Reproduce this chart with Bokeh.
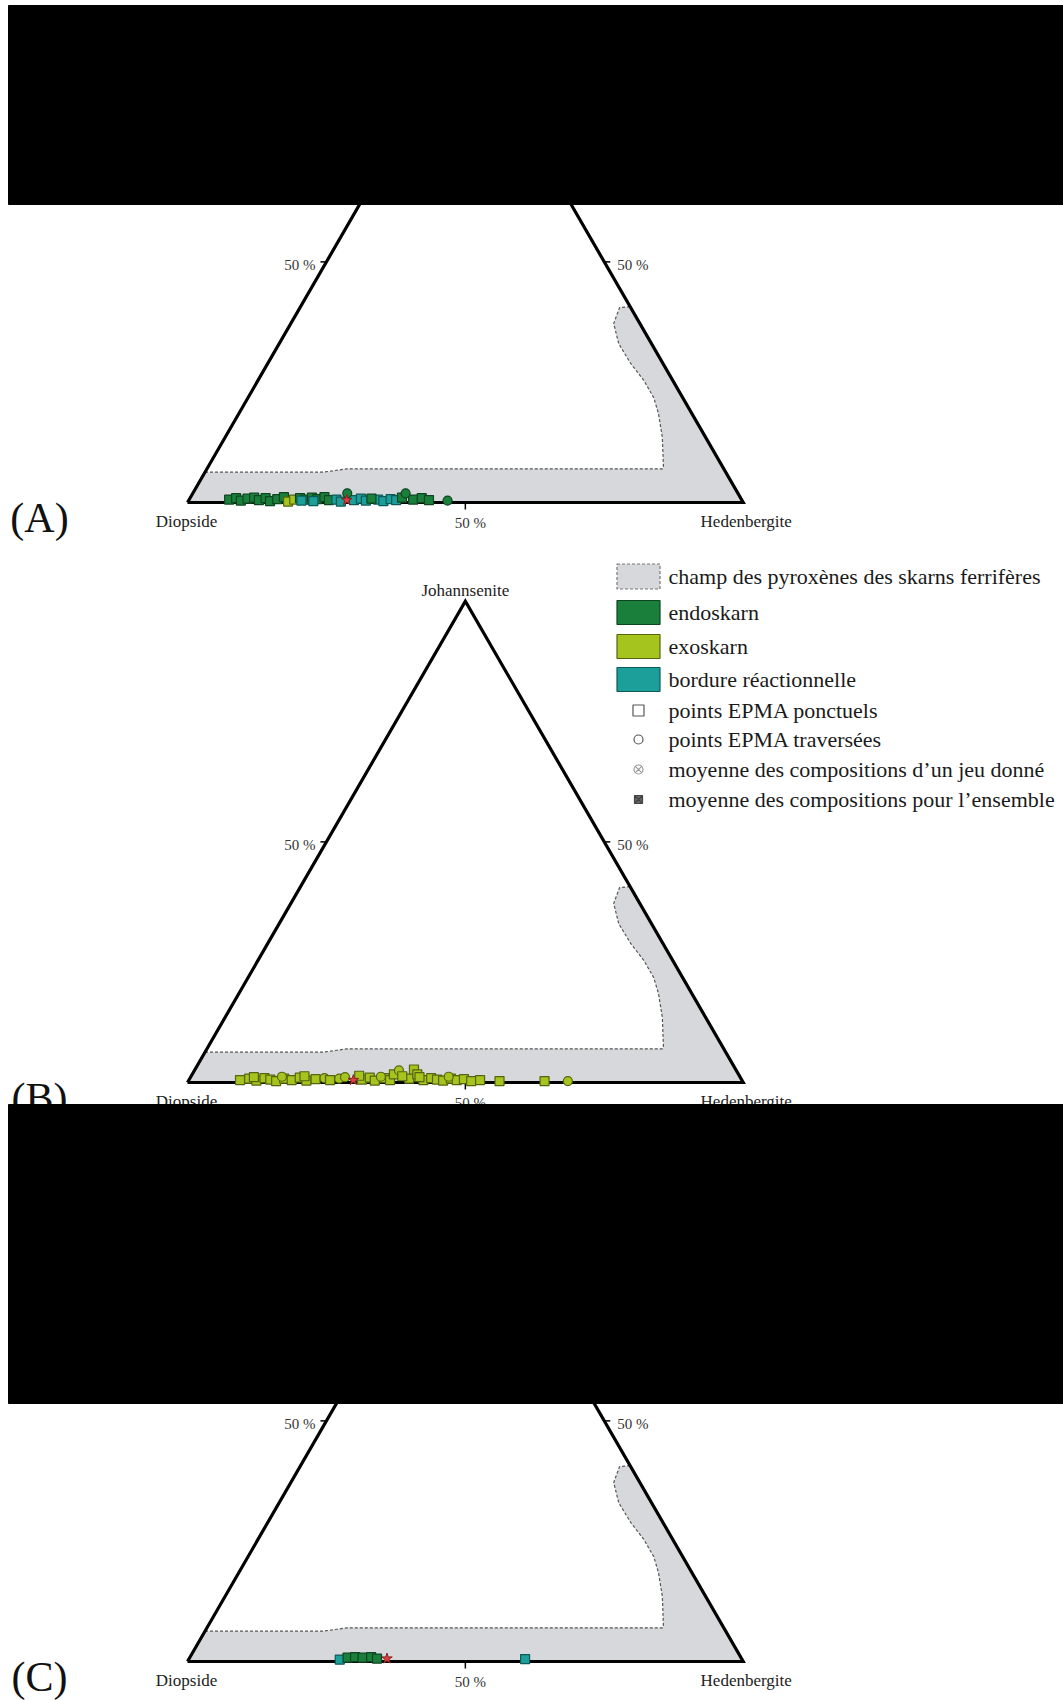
import numpy as np
from bokeh.plotting import figure
from bokeh.models import Range1d, ColumnDataSource
from bokeh.core.properties import value
from bokeh.embed import file_html
from bokeh.resources import INLINE

# ---------------- data (ternary: Hd %, Jo %; Di = 100 - Hd - Jo) ----------------
corner_names = ["Diopside", "Hedenbergite", "Johannsenite"]
tick_label = "50 %"
panel_labels = ["(A)", "(B)", "(C)"]

# field of pyroxenes of Fe skarns (interior boundary, from left edge to right edge)
field_hd = [0.0, 21.3, 23.5, 25.3, 82.0, 82.0, 78.7, 75.5, 73.0, 69.4, 65.3, 61.1, 58.1, 57.5, 59.3]
field_jo = [6.3, 6.3, 6.7, 7.0, 7.0, 7.3, 13.5, 18.5, 21.8, 25.4, 28.9, 33.0, 37.2, 40.5, 40.7]

# Panel A
A_hd = [7.2, 8.3, 9.4, 10.4, 11.5, 12.6, 13.6, 14.7, 15.8, 16.8,
        18.0, 18.9,
        19.8, 20.9, 21.9, 23.0, 24.1, 25.2,
        20.3, 22.5, 26.5, 27.5, 29.7, 30.8, 31.9, 34.0, 35.1, 36.2, 37.3,
        32.7, 38.1, 40.3, 41.7, 43.2,
        27.8, 38.3, 46.6]
A_jo = [0.6, 0.9, 0.4, 0.8, 1.0, 0.5, 0.9, 0.3, 0.7, 1.1,
        0.2, 0.6,
        0.9, 0.6, 1.0, 0.7, 1.1, 0.5,
        0.4, 0.3, 0.6, 0.2, 0.5, 0.8, 0.4, 0.6, 0.3, 0.7, 0.5,
        0.8, 1.0, 0.6, 0.9, 0.5,
        1.9, 1.9, 0.4]
A_grp = ["endo"] * 10 + ["exo"] * 2 + ["endo"] * 6 + ["bord"] * 11 + ["endo"] * 5 + ["endo"] * 3
A_shape = ["square"] * 34 + ["circle"] * 3
A_mean_hd = [28.4]
A_mean_jo = [0.5]

# Panel B
B_hd = [9.2, 10.7, 12.2, 13.4, 14.6, 15.8, 17.0, 18.5, 19.7, 21.2, 22.7, 24.2, 25.4, 26.9,
        31.1, 32.3, 33.5, 35.0, 36.2, 36.3, 36.8, 39.5, 39.4, 40.5, 42.2, 43.4, 44.6, 45.8,
        47.0, 48.2, 49.4, 50.9, 52.4, 56.0, 64.1, 68.3,
        11.4, 16.4, 20.4, 27.8, 30.2, 34.2, 38.0, 41.2, 46.4]
B_jo = [0.5, 0.8, 0.4, 0.9, 0.6, 0.3, 0.8, 0.5, 1.0, 0.4, 0.7, 0.9, 0.5, 0.8,
        0.6, 1.0, 0.4, 0.9, 0.5, 1.7, 2.5, 0.8, 2.7, 1.7, 0.5, 0.9, 0.6, 0.4,
        0.8, 0.5, 0.7, 0.3, 0.5, 0.3, 0.3, 0.3,
        1.1, 1.2, 1.3, 1.1, 1.4, 1.2, 1.3, 1.1, 1.2]
B_grp = ["exo"] * 45
B_shape = (["square"] * 11 + ["circle", "square", "circle"] + ["square"] * 6 + ["circle"] + ["square"] * 14
           + ["circle"] + ["square", "circle", "square", "circle", "square", "circle", "square", "square", "circle"])
B_mean_hd = [29.6]
B_mean_jo = [0.5]

# Panel C
C_hd = [27.2, 28.4, 29.7, 31.1, 32.6, 33.8, 60.5]
C_jo = [0.4, 0.8, 0.9, 0.8, 0.9, 0.6, 0.5]
C_grp = ["bord", "endo", "endo", "endo", "endo", "endo", "bord"]
C_shape = ["square"] * 7
C_mean_hd = [35.6]
C_mean_jo = [0.6]

legend_texts = ["champ des pyroxènes des skarns ferrifères", "endoskarn", "exoskarn",
                "bordure réactionnelle", "points EPMA ponctuels", "points EPMA traversées",
                "moyenne des compositions d\u2019un jeu donné",
                "moyenne des compositions pour l\u2019ensemble"]

# ---------------- styles ----------------
FILL = {"endo": "#1b7f3c", "exo": "#a6c41e", "bord": "#1c9f9b"}
EDGE = {"endo": "#0d4520", "exo": "#55650f", "bord": "#0e5a58"}
FIELD = "#d6d8dc"
FONT = value("Liberation Serif")

W, H = 1063, 1700
X0, SIDE = 187.0, 555.7
BASES = [502.0, 1082.0, 1661.0]
S3 = np.sqrt(3) / 2


def tern(hd, jo, base):
    hd = np.asarray(hd, float)
    jo = np.asarray(jo, float)
    x = X0 + SIDE * (hd + jo / 2) / 100.0
    y = base - SIDE * S3 * jo / 100.0
    return x, y


p = figure(width=W, height=H, output_backend="svg", toolbar_location=None,
           x_range=Range1d(0, W), y_range=Range1d(H, 0),
           min_border=0, border_fill_color="white", background_fill_color="white")
p.axis.visible = False
p.grid.visible = False
p.outline_line_color = None

panels = [(A_hd, A_jo, A_grp, A_shape, A_mean_hd, A_mean_jo),
          (B_hd, B_jo, B_grp, B_shape, B_mean_hd, B_mean_jo),
          (C_hd, C_jo, C_grp, C_shape, C_mean_hd, C_mean_jo)]

TICK_FS = value("15px")
for k, base in enumerate(BASES):
    hd, jo, grp, shp, mhd, mjo = panels[k]
    # gray field polygon
    poly_hd = [0.0, 100.0] + field_hd[::-1]
    poly_jo = [0.0, 0.0] + field_jo[::-1]
    fx, fy = tern(poly_hd, poly_jo, base)
    p.patch(list(fx), list(fy), fill_color=FIELD, line_color=None)
    bx, by = tern(field_hd, field_jo, base)
    p.line(list(bx), list(by), line_color="#555555", line_width=1.2, line_dash="3 2")
    # triangle
    tx, ty = tern([0, 100, 0, 0], [0, 0, 100, 0], base)
    p.line(list(tx), list(ty), line_color="black", line_width=3.2, line_join="miter")
    # 50 % ticks
    cx, cy = tern([50], [0], base)
    p.segment(x0=cx, y0=cy, x1=cx, y1=cy + 7, line_color="black", line_width=1.5)
    lx, ly = tern([0], [50], base)
    p.segment(x0=lx, y0=ly, x1=lx - 6, y1=ly, line_color="black", line_width=1.5)
    rx, ry = tern([50], [50], base)
    p.segment(x0=rx, y0=ry, x1=rx + 6, y1=ry, line_color="black", line_width=1.5)
    p.text(x=list(lx - 11), y=list(ly + 3), text=[tick_label], text_align="right", text_baseline="middle",
           text_font=FONT, text_font_size=TICK_FS, text_color="#333333")
    p.text(x=list(rx + 13), y=list(ry + 3), text=[tick_label], text_align="left", text_baseline="middle",
           text_font=FONT, text_font_size=TICK_FS, text_color="#333333")
    p.text(x=list(cx + 5), y=list(cy + 20), text=[tick_label], text_align="center", text_baseline="middle",
           text_font=FONT, text_font_size=TICK_FS, text_color="#333333")
    # corner names
    dx, dy = tern([0, 100, 0], [0, 0, 100], base)
    p.text(x=[dx[0] - 1, dx[1] + 3], y=[dy[0] + 19, dy[1] + 19], text=corner_names[:2],
           text_align="center", text_baseline="middle", text_font=FONT,
           text_font_size=value("17px"), text_color="#222222")
    if k == 1:  # apex label is only visible on panel B
        p.text(x=[dx[2]], y=[dy[2] - 11], text=[corner_names[2]], text_align="center", text_baseline="middle",
               text_font=FONT, text_font_size=value("17px"), text_color="#222222")
    # panel label
    p.text(x=[39], y=[base + 15], text=[panel_labels[k]], text_align="center", text_baseline="middle",
           text_font=FONT, text_font_size=value("42px"), text_color="#111111")
    # points
    px, py = tern(hd, jo, base)
    src = ColumnDataSource(dict(x=px, y=py, marker=shp,
                                fill=[FILL[g] for g in grp], edge=[EDGE[g] for g in grp]))
    p.scatter(x="x", y="y", marker="marker", source=src, size=9, fill_color="fill",
              line_color="edge", line_width=1.2)
    mx, my = tern(mhd, mjo, base)
    p.scatter(x=list(mx), y=list(my), marker="star", size=11, fill_color="#d8423f",
              line_color="#8a1f1f", line_width=1)

# black bars (masked regions of the original figure)
p.quad(left=[8, 8], right=[W, W], top=[5, 1104], bottom=[204, 1403],
       fill_color="black", line_color="black")

# legend
SW_X = 638
sw_y = [576, 612, 646, 679]
p.rect(x=[SW_X], y=[sw_y[0]], width=43, height=25, fill_color=FIELD, line_color="#777777",
       line_dash="3 2", line_width=1.2)
for g, yy in zip(["endo", "exo", "bord"], sw_y[1:]):
    p.rect(x=[SW_X], y=[yy], width=43, height=24, fill_color=FILL[g], line_color=EDGE[g], line_width=1.2)
mk_y = [710, 739, 769, 799]
p.scatter(x=[SW_X], y=[mk_y[0]], marker="square", size=11, fill_color="white", line_color="#555555", line_width=1.2)
p.scatter(x=[SW_X], y=[mk_y[1]], marker="circle", size=9, fill_color="white", line_color="#555555", line_width=1.2)
p.scatter(x=[SW_X], y=[mk_y[2]], marker="circle_x", size=9, fill_color="white", line_color="#999999", line_width=1.2)
p.scatter(x=[SW_X], y=[mk_y[3]], marker="square_x", size=8, fill_color="#666666", line_color="#444444", line_width=1.2)
p.text(x=[668] * 8, y=sw_y + mk_y, text=legend_texts, text_align="left", text_baseline="middle",
       text_font=FONT, text_font_size=value("22px"), text_color="#1a1a1a")

open("out.html", "w").write(file_html(p, INLINE))
